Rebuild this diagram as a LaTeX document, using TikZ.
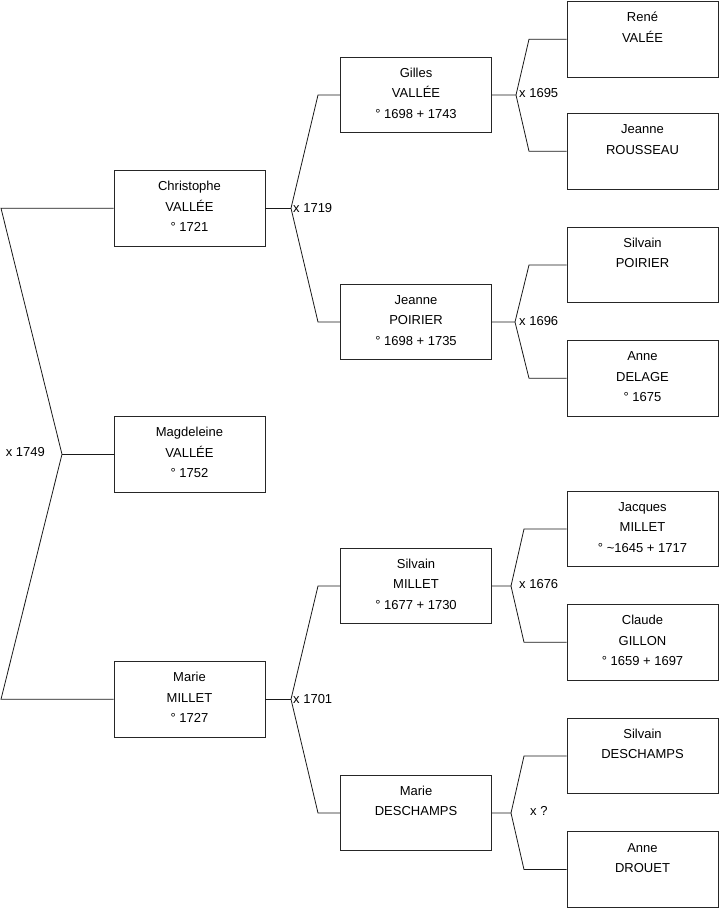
\documentclass[tikz,border=0pt]{standalone}
\usepackage{fontspec}
\setmainfont{Liberation Sans}
\begin{document}
\begin{tikzpicture}[x=1pt,y=-1pt,
  pbox/.style={draw=black!85,line width=0.9pt,minimum width=151pt,minimum height=75.5pt,inner sep=0pt},
  ptext/.style={font=\fontsize{13}{15}\selectfont,anchor=base,inner sep=0pt},
  conn/.style={draw=black!90,line width=0.8pt},
  mlabel/.style={font=\fontsize{13}{15}\selectfont,inner sep=0pt}]
\useasboundingbox (0,0) rectangle (719,908);
\newcommand{\person}[6]{%
  \node[pbox] (#1) at (#2,#3+37.75) {};
  \node[ptext] (#1-a) at (#2,#3+20.3) {#4};
  \node[ptext] (#1-b) at (#2,#3+40.5) {#5};
  \node[ptext] (#1-c) at (#2,#3+60.7) {#6};}
% column 1
\person{christophe}{189.5}{170.5}{Christophe}{VALLÉE}{° 1721}
\person{magdeleine}{189.5}{416.5}{Magdeleine}{VALLÉE}{° 1752}
\person{marie}{189.5}{661.5}{Marie}{MILLET}{° 1727}
% column 2
\person{gilles}{416}{57.3}{Gilles}{VALLÉE}{° 1698 + 1743}
\person{jeanneP}{416}{284.3}{Jeanne}{POIRIER}{° 1698 + 1735}
\person{silvainM}{416}{548.3}{Silvain}{MILLET}{° 1677 + 1730}
\person{marieD}{416}{775.3}{Marie}{DESCHAMPS}{}
% column 3
\person{rene}{642.5}{1.5}{René}{VALÉE}{}
\person{jeanneR}{642.5}{113.5}{Jeanne}{ROUSSEAU}{}
\person{silvainP}{642.5}{227.3}{Silvain}{POIRIER}{}
\person{anne}{642.5}{340.5}{Anne}{DELAGE}{° 1675}
\person{jacques}{642.5}{491.3}{Jacques}{MILLET}{° \textasciitilde 1645 + 1717}
\person{claude}{642.5}{604.5}{Claude}{GILLON}{° 1659 + 1697}
\person{silvainD}{642.5}{718.3}{Silvain}{DESCHAMPS}{}
\person{anneD}{642.5}{831.7}{Anne}{DROUET}{}
% junction coordinates
\coordinate (m1749) at (62,454.25);
\coordinate (l1) at (1,208.25);
\coordinate (l3) at (1,699.25);
\coordinate (m1719) at (291,208.25);
\coordinate (g1) at (318,95);
\coordinate (g2) at (318,322);
\coordinate (m1701) at (291,699.25);
\coordinate (g3) at (318,586);
\coordinate (g4) at (318,813);
\coordinate (m1695) at (516,95);
\coordinate (r1) at (529,39.25);
\coordinate (r2) at (529,151.25);
\coordinate (m1696) at (515,322);
\coordinate (r3) at (529,265);
\coordinate (r4) at (529,378.25);
\coordinate (m1676) at (511,586);
\coordinate (r5) at (524,529);
\coordinate (r6) at (524,642.25);
\coordinate (mq) at (511,813);
\coordinate (r7) at (524,756);
\coordinate (r8) at (524,869.5);
% connectors
\draw[conn] (christophe.west) -- (l1) -- (m1749) -- (l3) -- (marie.west);
\draw[conn] (m1749) -- (magdeleine.west);
\draw[conn] (christophe.east) -- (m1719);
\draw[conn] (gilles.west) -- (g1) -- (m1719) -- (g2) -- (jeanneP.west);
\draw[conn] (marie.east) -- (m1701);
\draw[conn] (silvainM.west) -- (g3) -- (m1701) -- (g4) -- (marieD.west);
\draw[conn] (gilles.east) -- (m1695);
\draw[conn] (rene.west) -- (r1) -- (m1695) -- (r2) -- (jeanneR.west);
\draw[conn] (jeanneP.east) -- (m1696);
\draw[conn] (silvainP.west) -- (r3) -- (m1696) -- (r4) -- (anne.west);
\draw[conn] (silvainM.east) -- (m1676);
\draw[conn] (jacques.west) -- (r5) -- (m1676) -- (r6) -- (claude.west);
\draw[conn] (marieD.east) -- (mq);
\draw[conn] (silvainD.west) -- (r7) -- (mq) -- (r8) -- (anneD.west);
% marriage labels
\node[mlabel,anchor=base east] (t1749) at (45,456) {x 1749};
\node[mlabel,anchor=base west] (t1719) at (293,212) {x 1719};
\node[mlabel,anchor=base west] (t1701) at (293,703) {x 1701};
\node[mlabel,anchor=base west] (t1695) at (519,97) {x 1695};
\node[mlabel,anchor=base west] (t1696) at (519,325) {x 1696};
\node[mlabel,anchor=base west] (t1676) at (519,588) {x 1676};
\node[mlabel,anchor=base west] (tq) at (530,815) {x ?};
\end{tikzpicture}
\end{document}
